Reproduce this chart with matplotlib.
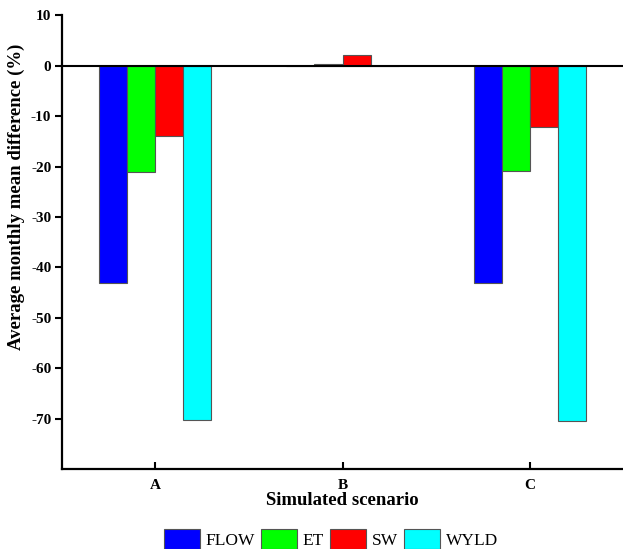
import matplotlib
matplotlib.use("Agg")
import matplotlib.pyplot as plt
import numpy as np

# scenario categories and series (average monthly mean difference, %)
scenarios = ["A", "B", "C"]
flow = [-43.1, 0.0, -43.1]
et = [-21.1, 0.3, -20.9]
sw = [-13.9, 2.15, -12.1]
wyld = [-70.2, 0.0, -70.35]

series_names = ["FLOW", "ET", "SW", "WYLD"]
series_colors = ["#0000FF", "#00FF00", "#FF0000", "#00FFFF"]

plt.rcParams['font.family'] = ['Liberation Serif', 'DejaVu Serif']
plt.rcParams['axes.unicode_minus'] = False

fig = plt.figure(figsize=(6.23, 5.49), dpi=100)
ax = fig.add_axes([0.0989, 0.1454, 0.902, 0.8266])

x = np.arange(len(scenarios))
width = 0.15
offsets = [-1.5, -0.5, 0.5, 1.5]

for vals, name, col, off in zip([flow, et, sw, wyld], series_names, series_colors, offsets):
    ax.bar(x + off * width, vals, width, color=col, edgecolor="#555555",
           linewidth=0.8, label=name, zorder=2)

# zero line
ax.axhline(0, color="black", linewidth=1.5, zorder=3)

ax.set_xlim(-0.5, 2.5)
ax.set_ylim(-80, 10)
ax.set_yticks(np.arange(-70, 11, 10))
ax.set_xticks(x)
ax.set_xticklabels(scenarios)

for s in ["top", "right"]:
    ax.spines[s].set_visible(False)
for s in ["left", "bottom"]:
    ax.spines[s].set_linewidth(1.6)

ax.tick_params(axis="y", direction="out", length=5.4, width=1.5, pad=2, labelsize=11)
ax.tick_params(axis="x", direction="in", length=5, width=1.5, pad=7, labelsize=11)
for lab in ax.get_xticklabels() + ax.get_yticklabels():
    lab.set_fontweight("bold")

ax.set_ylabel("Average monthly mean difference (%)", fontsize=13.5, fontweight="bold", va="center")
ax.yaxis.set_label_coords(-0.081, 0.60)
ax.set_xlabel("Simulated scenario", fontsize=13.5, fontweight="bold", va="center")
ax.xaxis.set_label_coords(0.5, -0.069)

handles, labels = ax.get_legend_handles_labels()
fig.legend(handles, labels, loc="center", bbox_to_anchor=(0.531, 0.018), ncol=4,
           frameon=False, fontsize=12.5, handlelength=2.1, handleheight=1.4,
           handletextpad=0.3, columnspacing=0.35, borderaxespad=0)

fig.savefig("out.png", dpi=100)
